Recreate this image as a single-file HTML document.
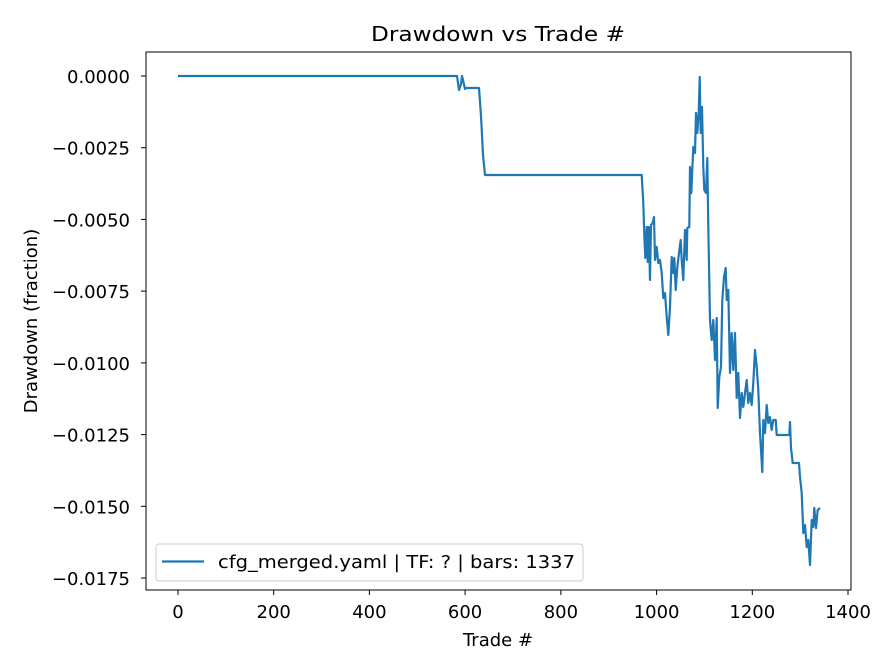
<!DOCTYPE html>
<html><head><meta charset="utf-8"><style>body{margin:0;background:#fff}svg{display:block}text{font-family:"DejaVu Sans","Liberation Sans",sans-serif}</style></head><body>
<svg width="896" height="672" xmlns="http://www.w3.org/2000/svg">
<rect width="896" height="672" fill="#fff"/>
<text x="498" y="41" font-size="20" text-anchor="middle" fill="#000" textLength="254" lengthAdjust="spacingAndGlyphs">Drawdown vs Trade #</text>
<polyline fill="none" stroke="#1f77b4" stroke-width="2.2" stroke-linejoin="round" points="178,76 457,76 459,90 461,84 462,76 463,80 465,89 466,88 479,88 481,116 482,135 483,155 485,175 641.7,175 643.3,203 644.3,235 645.3,258 646.7,227 647.7,262 648.7,227 650,280 651,225 652.7,223 654,217 655,260 656.7,247 658.3,263 660,260 661.7,273 663.3,298 665,293 666.7,317 668.3,335 670,307 671.7,257 673.3,273 674.3,258 675.7,290 677.3,267 679,253 680.7,240 681.7,260 683.3,280 685,230 686.7,260 687.3,228 689.3,227 690,167 691.3,193 693.3,147 695,153 696,113 697.3,133 698.7,113 699.7,77 700.7,133 702,107 703.3,167 704.3,190 706,193 707.3,158 708.3,227 710,320 711.7,340 713.3,320 715,360 716.7,318 717.7,408 719.3,377 721,367 722.3,300 724,277 725.7,268 726.7,300 728.3,290 730,373 731.7,333 733.3,370 735,333 736.7,398 738.3,373 740,418 741.7,393 743.3,407 745,393 746.7,380 748.3,403 750,393 751.7,405 753.3,383 755,350 756.7,367 758.3,390 760,433 762.3,472 763.3,420 765,433 766.7,405 768.3,423 770,417 771.7,430 773.3,420 775.7,420 776.7,435 789.3,435 790,422 791,448 792.7,463 799,463 800,477 801.7,493 803.3,533 805,525 806.7,547 808.3,540 810,565 811.7,520 813.3,527 814.3,508 816,528 817.7,510 820,508"/>
<rect x="146" y="52" width="705" height="538" fill="none" stroke="#000" stroke-width="1"/>
<g stroke="#000" stroke-width="1">
<line x1="178" y1="590" x2="178" y2="595"/><line x1="273.7" y1="590" x2="273.7" y2="595"/><line x1="369.4" y1="590" x2="369.4" y2="595"/><line x1="465.1" y1="590" x2="465.1" y2="595"/><line x1="560.9" y1="590" x2="560.9" y2="595"/><line x1="656.6" y1="590" x2="656.6" y2="595"/><line x1="752.3" y1="590" x2="752.3" y2="595"/><line x1="848" y1="590" x2="848" y2="595"/>
<line x1="141" y1="76" x2="146" y2="76"/><line x1="141" y1="147.7" x2="146" y2="147.7"/><line x1="141" y1="219.4" x2="146" y2="219.4"/><line x1="141" y1="291.1" x2="146" y2="291.1"/><line x1="141" y1="362.9" x2="146" y2="362.9"/><line x1="141" y1="434.6" x2="146" y2="434.6"/><line x1="141" y1="506.3" x2="146" y2="506.3"/><line x1="141" y1="578" x2="146" y2="578"/>
</g>
<g font-size="18" fill="#000" text-anchor="middle">
<text x="178" y="618">0</text><text x="273.7" y="618">200</text><text x="369.4" y="618">400</text><text x="465.1" y="618">600</text><text x="560.9" y="618">800</text><text x="656.6" y="618">1000</text><text x="752.3" y="618">1200</text><text x="848" y="618">1400</text>
<text x="498" y="646">Trade #</text>
</g>
<g font-size="18" fill="#000" text-anchor="end">
<text x="130" y="83">0.0000</text><text x="130" y="154.7">−0.0025</text><text x="130" y="226.4">−0.0050</text><text x="130" y="298.1">−0.0075</text><text x="130" y="369.9">−0.0100</text><text x="130" y="441.6">−0.0125</text><text x="130" y="513.3">−0.0150</text><text x="130" y="585">−0.0175</text>
</g>
<text transform="translate(37,321) rotate(-90)" font-size="18" text-anchor="middle" fill="#000">Drawdown (fraction)</text>
<rect x="156" y="544" width="427" height="37" rx="3" fill="#fff" fill-opacity="0.8" stroke="#ccc" stroke-width="1"/>
<line x1="162" y1="561.5" x2="204" y2="561.5" stroke="#1f77b4" stroke-width="2.2"/>
<text x="218" y="568" font-size="18" fill="#000" textLength="357" lengthAdjust="spacingAndGlyphs">cfg_merged.yaml | TF: ? | bars: 1337</text>
</svg>
</body></html>
